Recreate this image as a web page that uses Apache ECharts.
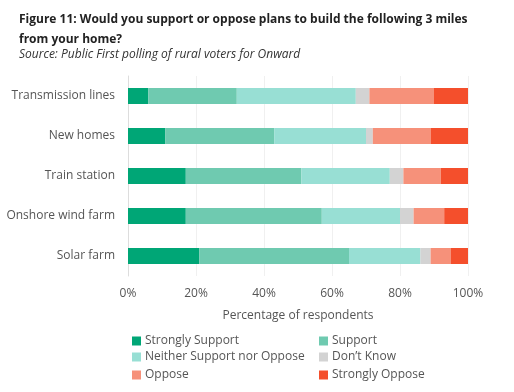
<!DOCTYPE html>
<html><head><meta charset="utf-8">
<script src="https://cdn.jsdelivr.net/npm/echarts@6/dist/echarts.min.js"></script>
<style>html,body{margin:0;padding:0;background:#fff}#c{width:514px;height:392px}</style>
</head><body><div id="c"></div>
<script>
const categories = ["Transmission lines","New homes","Train station","Onshore wind farm","Solar farm"];
const strongSupport = [6, 11, 17, 17, 21];
const support = [26, 32, 34, 40, 44];
const neither = [35, 27, 26, 23, 21];
const dontKnow = [4, 2, 4, 4, 3];
const oppose = [19, 17, 11, 9, 6];
const strongOppose = [10, 11, 8, 7, 5];
const xTicks = [0, 20, 40, 60, 80, 100];

const seriesDefs = [
  ["Strongly Support", strongSupport, "#00a676"],
  ["Support", support, "#6fcab0"],
  ["Neither Support nor Oppose", neither, "#98dfd4"],
  ["Don\u2019t Know", dontKnow, "#d3d3d3"],
  ["Oppose", oppose, "#f6917a"],
  ["Strongly Oppose", strongOppose, "#f44f2c"]
];
const font = "'Open Sans', sans-serif";
const chart = echarts.init(document.getElementById('c'), null, {renderer:'canvas'});
const legendPos = [[127,335],[314,335],[127,351],[314,351],[127,369],[314,369]];
const legends = seriesDefs.map((d, i) => ({
  left: legendPos[i][0], top: legendPos[i][1], data:[d[0]],
  itemWidth:9, itemHeight:9, icon:'rect', itemGap:0, padding:[0,5,0,5],
  textStyle:{color:'#555', fontSize:12, fontFamily:font, padding:[0,0,0,-1]}
}));
chart.setOption({
  animation:false,
  title:[{
    text:"Figure 11: Would you support or oppose plans to build the following 3 miles\nfrom your home?",
    left:14, top:5,
    textStyle:{fontSize:12, fontWeight:'bold', color:'#222', lineHeight:20, fontFamily:font}
  },{
    text:"Source: Public First polling of rural voters for Onward",
    left:14, top:44,
    textStyle:{fontSize:12, fontWeight:'normal', fontStyle:'italic', color:'#333', fontFamily:font}
  }],
  legend: legends,
  grid:{left:128, right:46, top:76, height:200},
  xAxis:{
    type:'value', min:0, max:100, interval:20,
    name:'Percentage of respondents', nameLocation:'middle', nameGap:34,
    nameTextStyle:{color:'#555', fontSize:12, fontFamily:font},
    axisLabel:{formatter: v => xTicks.includes(v) ? v + '%' : '', color:'#555', fontSize:12, fontFamily:font, margin:12},
    axisLine:{show:false}, axisTick:{show:false},
    splitLine:{show:true, lineStyle:{color:'#f0f0f0', width:1}}
  },
  yAxis:{
    type:'category', data:categories, inverse:true,
    axisLabel:{color:'#555', fontSize:12, fontFamily:font, margin:13},
    axisLine:{show:true, lineStyle:{color:'#ddd', width:1}}, axisTick:{show:false}
  },
  series: seriesDefs.map(([name, data, color]) => ({
    name, type:'bar', stack:'total', data, barWidth:16,
    itemStyle:{color}
  }))
});
</script></body></html>
